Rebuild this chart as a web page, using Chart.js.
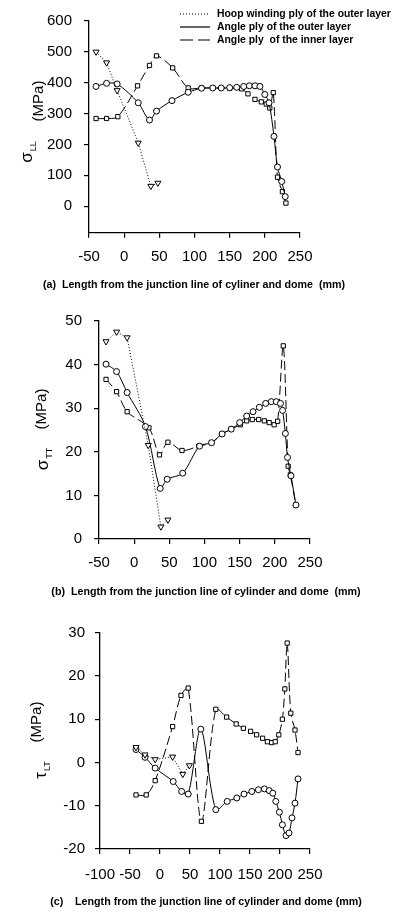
<!DOCTYPE html>
<html>
<head>
<meta charset="utf-8">
<script src="https://cdn.jsdelivr.net/npm/chart.js@4.4.0/dist/chart.umd.min.js"></script>
<style>
  html, body { margin: 0; padding: 0; background: #fff; }
  .panel { position: absolute; left: 0; }
</style>
</head>
<body>
<div class="panel" style="top:0px"><canvas id="chartA" width="396" height="300"></canvas></div>
<div class="panel" style="top:300px"><canvas id="chartB" width="396" height="310"></canvas></div>
<div class="panel" style="top:610px"><canvas id="chartC" width="396" height="304"></canvas></div>
<script>
// (a) sigma_LL, MPa
const aHoopX = [-40, -25, -10, 20, 38, 48];
const aHoopY = [500, 465, 375, 205, 65, 75];
const aOuterX = [-40, -25, -10, 20, 36, 46, 68, 91, 110, 126, 138, 150, 160, 170, 178, 186, 193, 200, 206, 213, 218, 224, 229];
const aOuterY = [388, 398, 396, 335, 279, 308, 342, 369, 382, 383, 383, 384, 385, 388, 390, 390, 388, 362, 335, 226, 127, 80, 31];
const aInnerX = [-40, -25, -9, 19, 36, 46, 69, 91, 110, 150, 167, 176, 186, 195, 202, 207, 212, 218, 225, 230];
const aInnerY = [284, 284, 290, 390, 456, 487, 448, 383, 383, 382, 380, 364, 346, 338, 331, 318, 368, 94, 47, 10];
const aXTicks = [-50, 0, 50, 100, 150, 200, 250];
const aYTicks = [0, 100, 200, 300, 400, 500, 600];

// (b) sigma_TT, MPa
const bHoopX = [-40, -25, -10, 20, 38, 48];
const bHoopY = [45.3, 47.5, 46.2, 21.5, 2.8, 4.4];
const bOuterX = [-40, -25, -10, 16, 37, 47, 69, 93, 110, 125, 138, 150, 160, 169, 178, 187, 195, 202, 208, 211, 215, 218, 223, 230];
const bOuterY = [40.1, 38.4, 33.6, 25.8, 11.6, 13.7, 15.1, 21.3, 22.1, 24.1, 25.2, 26.7, 28.2, 29.2, 30.2, 31.1, 31.5, 31.5, 31.1, 29.5, 24.2, 18.7, 14.5, 7.8];
const bInnerX = [-40, -25, -10, 21, 36, 48, 68, 92, 110, 125, 138, 151, 160, 168, 177, 185, 192, 199, 204, 212, 219, 222, 230];
const bInnerY = [36.6, 33.8, 29.2, 25.5, 19.3, 22.2, 20.3, 21.3, 22.1, 24.1, 25.2, 26.2, 27.1, 27.4, 27.4, 27.1, 26.7, 26.2, 27, 44.3, 16.7, 14.7, 7.8];
const bXTicks = [-50, 0, 50, 100, 150, 200, 250];
const bYTicks = [0, 10, 20, 30, 40, 50];

// (c) tau_LT, MPa
const cHoopX = [-40, -25, -8, 21, 38, 49];
const cHoopY = [3.5, 1.8, 0.7, 1.3, -2.7, -0.7];
const cOuterX = [-40, -25, -8, 22, 36, 47, 68, 93, 112, 128, 140, 153, 164, 174, 182, 188, 193, 199, 204, 210, 215, 220, 225, 230];
const cOuterY = [3, 1.2, -1.3, -4.4, -6.7, -7.3, 7.7, -10.9, -9, -8.2, -7.3, -6.7, -6.3, -6.1, -6.5, -7.1, -9, -11.5, -14.4, -16.9, -16.3, -12.8, -9.4, -3.8];
const cInnerX = [-40, -23, -8, 21, 35, 47, 69, 93, 111, 127, 139, 151, 161, 171, 179, 186, 192, 198, 204, 208, 212, 218, 225, 230];
const cInnerY = [-7.5, -7.5, -4.2, 8.3, 15.5, 17.2, -13.6, 12.3, 10.5, 8.9, 7.9, 7.2, 6.4, 5.6, 4.8, 4.6, 4.8, 6.4, 10, 17, 27.6, 11.4, 7.5, 2.3];
const cXTicks = [-100, -50, 0, 50, 100, 150, 200, 250];
const cYTicks = [-20, -10, 0, 10, 20, 30];

const seriesNames = [
    'Hoop winding ply of the outer layer',
    'Angle ply of the outer layer',
    'Angle ply  of the inner layer'
];

const FONT = '"Liberation Sans", Arial, sans-serif';

function pts(xs, ys) {
    return xs.map((x, i) => ({ x: x, y: ys[i] }));
}

function makeSets(hx, hy, ox, oy, ix, iy) {
    const base = {
        borderColor: '#000',
        borderWidth: 1,
        pointBorderColor: '#000',
        pointBackgroundColor: '#fff',
        pointBorderWidth: 1,
        pointRadius: 3,
        fill: false
    };
    return [
        Object.assign({}, base, {
            label: seriesNames[0], data: pts(hx, hy),
            borderDash: [1, 2], tension: 0,
            pointStyle: 'triangle', rotation: 180, pointRadius: 3.5
        }),
        Object.assign({}, base, {
            label: seriesNames[1], data: pts(ox, oy),
            tension: 0.3, pointStyle: 'circle'
        }),
        Object.assign({}, base, {
            label: seriesNames[2], data: pts(ix, iy),
            borderDash: [9, 4], tension: 0.3, pointStyle: 'rect'
        })
    ];
}

// line-style key in the top right of panel (a)
const lineKey = {
    id: 'lineKey',
    afterDraw(chart, args, o) {
        if (!o.show) return;
        const ctx = chart.ctx;
        chart.data.datasets.forEach((ds, i) => {
            const y = o.y + i * o.gap;
            ctx.save();
            ctx.strokeStyle = '#000';
            ctx.lineWidth = 1.2;
            ctx.setLineDash(i === 2 ? [13, 5] : (ds.borderDash || []));
            ctx.beginPath();
            ctx.moveTo(o.x, y);
            ctx.lineTo(o.x + o.len, y);
            ctx.stroke();
            ctx.setLineDash([]);
            ctx.fillStyle = '#000';
            ctx.font = 'bold 10.4px ' + FONT;
            ctx.textBaseline = 'middle';
            ctx.fillText(ds.label, o.x + o.len + 7, y);
            ctx.restore();
        });
    }
};

// axis titles: caption under the x axis, rotated stress symbol + unit on the left
const axisTitles = {
    id: 'axisTitles',
    afterDraw(chart, args, o) {
        const ctx = chart.ctx;
        ctx.save();
        ctx.fillStyle = '#000';
        ctx.font = 'bold 10.7px ' + FONT;
        ctx.textAlign = 'center';
        ctx.textBaseline = 'middle';
        ctx.fillText(o.caption, o.capX, o.capY);
        ctx.restore();

        ctx.save();
        ctx.fillStyle = '#000';
        ctx.translate(o.unitX, o.unitY);
        ctx.rotate(-Math.PI / 2);
        ctx.font = '15px ' + FONT;
        ctx.textAlign = 'center';
        ctx.textBaseline = 'middle';
        ctx.fillText('(MPa)', 0, 0);
        ctx.restore();

        ctx.save();
        ctx.fillStyle = '#000';
        ctx.translate(o.symX, o.symY);
        ctx.rotate(-Math.PI / 2);
        ctx.textBaseline = 'alphabetic';
        ctx.font = '17px ' + FONT;
        const w1 = ctx.measureText(o.sym).width;
        ctx.font = '9px ' + FONT;
        const w2 = ctx.measureText(o.sub).width;
        const start = -(w1 + w2 + 1) / 2;
        ctx.font = '17px ' + FONT;
        ctx.fillText(o.sym, start, 0);
        ctx.font = '9px ' + FONT;
        ctx.fillText(o.sub, start + w1 + 1, 4);
        ctx.restore();
    }
};

function makeChart(id, sets, cfg) {
    const axisFont = { family: FONT, size: 15 };
    return new Chart(document.getElementById(id), {
        type: 'line',
        data: { datasets: sets },
        options: {
            responsive: false,
            animation: false,
            layout: { padding: { left: 0, right: 396 - cfg.right, top: cfg.top, bottom: 0 } },
            plugins: {
                legend: { display: false },
                tooltip: { enabled: false },
                lineKey: cfg.key || { show: false },
                axisTitles: cfg.titles
            },
            scales: {
                x: {
                    type: 'linear',
                    min: cfg.xTicks[0],
                    max: cfg.xTicks[cfg.xTicks.length - 1],
                    afterBuildTicks: s => { s.ticks = cfg.xTicks.map(v => ({ value: v })); },
                    afterFit: s => { s.height = cfg.height - cfg.bottom; },
                    grid: { drawOnChartArea: false, tickLength: 5, color: '#000', lineWidth: 1.2 },
                    border: { color: '#000', width: 1.3 },
                    ticks: {
                        autoSkip: false, maxRotation: 0, padding: cfg.xPad,
                        color: '#000', font: axisFont
                    }
                },
                y: {
                    min: cfg.yMin,
                    max: cfg.yTicks[cfg.yTicks.length - 1],
                    afterBuildTicks: s => { s.ticks = cfg.yTicks.map(v => ({ value: v })); },
                    afterFit: s => { s.width = cfg.left; },
                    grid: { drawOnChartArea: false, tickLength: 5, color: '#000', lineWidth: 1.2 },
                    border: { color: '#000', width: 1.3 },
                    ticks: { padding: cfg.yPad, color: '#000', font: axisFont }
                }
            }
        },
        plugins: [lineKey, axisTitles]
    });
}

makeChart('chartA', makeSets(aHoopX, aHoopY, aOuterX, aOuterY, aInnerX, aInnerY), {
    left: 89, right: 300, top: 14.7, bottom: 232.7, height: 300,
    xTicks: aXTicks, yTicks: aYTicks, yMin: -86, xPad: 10, yPad: 12,
    key: { show: true, x: 180, y: 14, gap: 13, len: 30 },
    titles: {
        caption: '(a)  Length from the junction line of cyliner and dome  (mm)', capX: 194, capY: 285,
        sym: 'σ', sub: 'LL', symX: 32, symY: 152, unitX: 39, unitY: 101
    }
});

makeChart('chartB', makeSets(bHoopX, bHoopY, bOuterX, bOuterY, bInnerX, bInnerY), {
    left: 99, right: 310, top: 20.7, bottom: 239, height: 310,
    xTicks: bXTicks, yTicks: bYTicks, yMin: 0, xPad: 10, yPad: 12,
    titles: {
        caption: '(b)  Length from the junction line of cylinder and dome  (mm)', capX: 206, capY: 291.7,
        sym: 'σ', sub: 'TT', symX: 48, symY: 159, unitX: 42, unitY: 109
    }
});

makeChart('chartC', makeSets(cHoopX, cHoopY, cOuterX, cOuterY, cInnerX, cInnerY), {
    left: 100, right: 310, top: 22.7, bottom: 239, height: 304,
    xTicks: cXTicks, yTicks: cYTicks, yMin: -20, xPad: 12, yPad: 10,
    titles: {
        caption: '(c)    Length from the junction line of cylinder and dome (mm)', capX: 206, capY: 291.7,
        sym: 'τ', sub: 'LT', symX: 46, symY: 160, unitX: 37, unitY: 112
    }
});
</script>
</body>
</html>
